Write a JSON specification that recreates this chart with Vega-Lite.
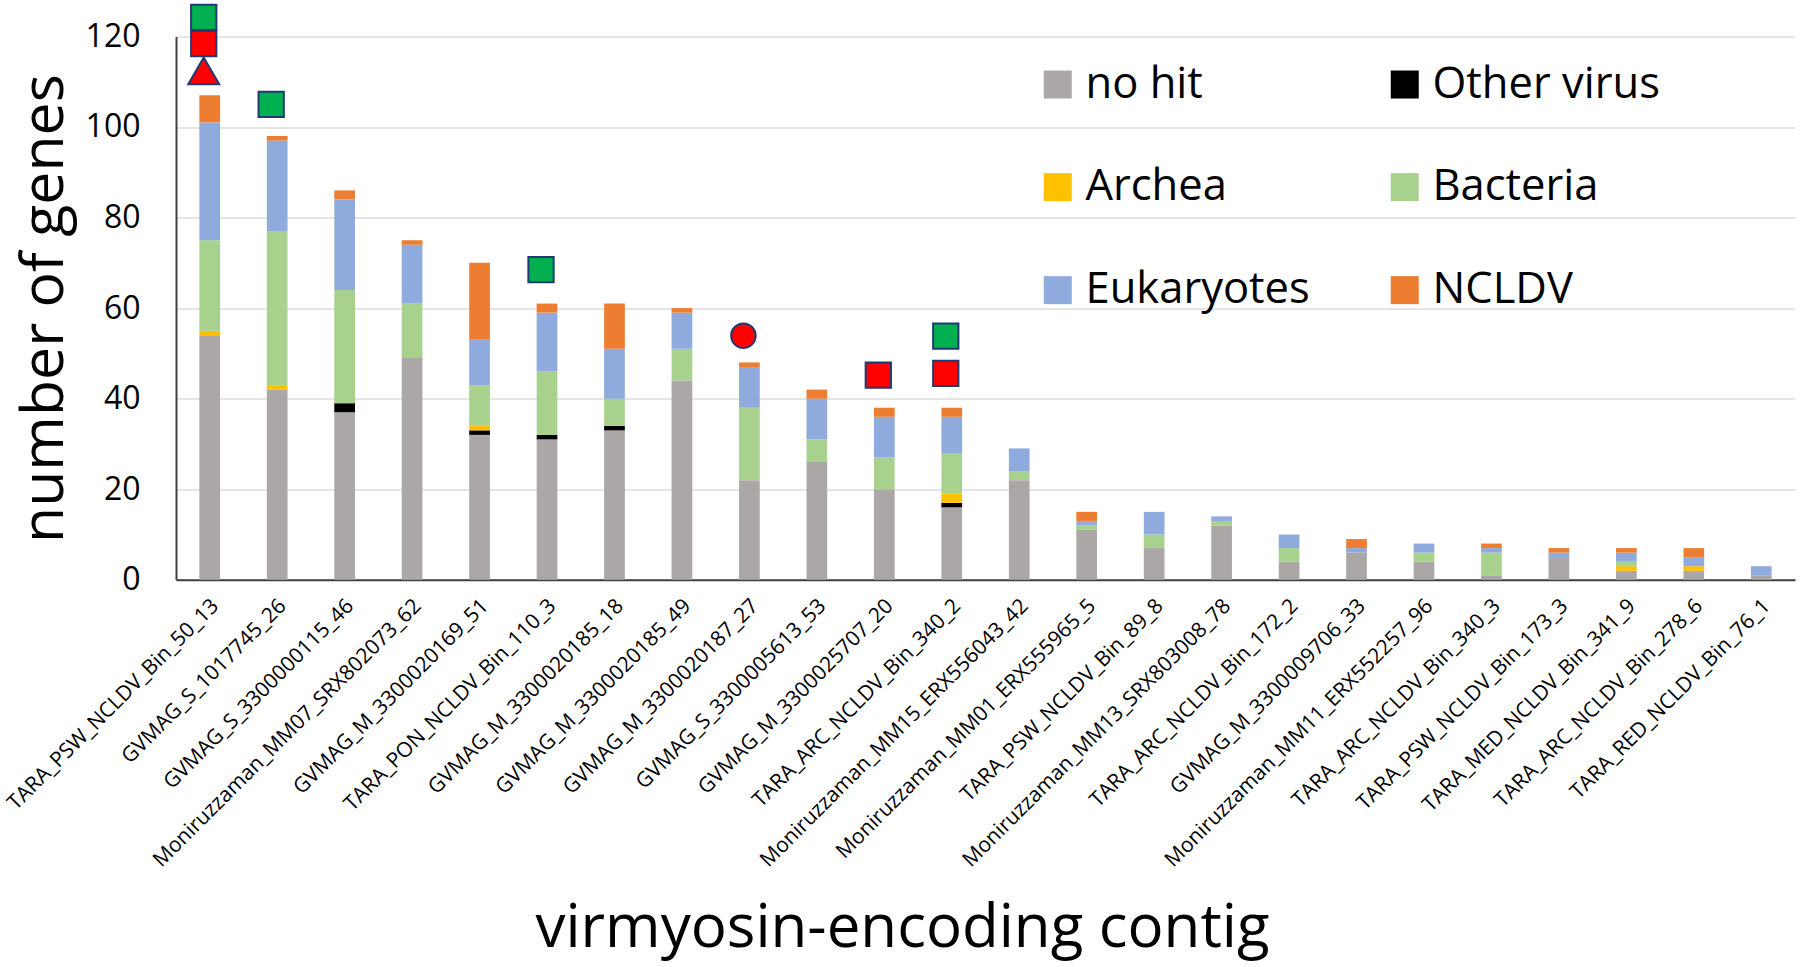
{"$schema":"https://vega.github.io/schema/vega-lite/v6.json","width":1619,"height":543.4,"autosize":{"type":"none"},"padding":{"left":176,"top":36.4,"right":5,"bottom":387.2},"background":"white","config":{"font":"Open Sans","view":{"stroke":null}},"datasets":{"bars":[
{"contig":"TARA_PSW_NCLDV_Bin_50_13","group":"no hit","rank":0,"genes":54},{"contig":"TARA_PSW_NCLDV_Bin_50_13","group":"Archea","rank":2,"genes":1},{"contig":"TARA_PSW_NCLDV_Bin_50_13","group":"Bacteria","rank":3,"genes":20},{"contig":"TARA_PSW_NCLDV_Bin_50_13","group":"Eukaryotes","rank":4,"genes":26},{"contig":"TARA_PSW_NCLDV_Bin_50_13","group":"NCLDV","rank":5,"genes":6},
{"contig":"GVMAG_S_1017745_26","group":"no hit","rank":0,"genes":42},{"contig":"GVMAG_S_1017745_26","group":"Archea","rank":2,"genes":1},{"contig":"GVMAG_S_1017745_26","group":"Bacteria","rank":3,"genes":34},{"contig":"GVMAG_S_1017745_26","group":"Eukaryotes","rank":4,"genes":20},{"contig":"GVMAG_S_1017745_26","group":"NCLDV","rank":5,"genes":1},
{"contig":"GVMAG_S_3300000115_46","group":"no hit","rank":0,"genes":37},{"contig":"GVMAG_S_3300000115_46","group":"Other virus","rank":1,"genes":2},{"contig":"GVMAG_S_3300000115_46","group":"Bacteria","rank":3,"genes":25},{"contig":"GVMAG_S_3300000115_46","group":"Eukaryotes","rank":4,"genes":20},{"contig":"GVMAG_S_3300000115_46","group":"NCLDV","rank":5,"genes":2},
{"contig":"Moniruzzaman_MM07_SRX802073_62","group":"no hit","rank":0,"genes":49},{"contig":"Moniruzzaman_MM07_SRX802073_62","group":"Bacteria","rank":3,"genes":12},{"contig":"Moniruzzaman_MM07_SRX802073_62","group":"Eukaryotes","rank":4,"genes":13},{"contig":"Moniruzzaman_MM07_SRX802073_62","group":"NCLDV","rank":5,"genes":1},
{"contig":"GVMAG_M_3300020169_51","group":"no hit","rank":0,"genes":32},{"contig":"GVMAG_M_3300020169_51","group":"Other virus","rank":1,"genes":1},{"contig":"GVMAG_M_3300020169_51","group":"Archea","rank":2,"genes":1},{"contig":"GVMAG_M_3300020169_51","group":"Bacteria","rank":3,"genes":9},{"contig":"GVMAG_M_3300020169_51","group":"Eukaryotes","rank":4,"genes":10},{"contig":"GVMAG_M_3300020169_51","group":"NCLDV","rank":5,"genes":17},
{"contig":"TARA_PON_NCLDV_Bin_110_3","group":"no hit","rank":0,"genes":31},{"contig":"TARA_PON_NCLDV_Bin_110_3","group":"Other virus","rank":1,"genes":1},{"contig":"TARA_PON_NCLDV_Bin_110_3","group":"Bacteria","rank":3,"genes":14},{"contig":"TARA_PON_NCLDV_Bin_110_3","group":"Eukaryotes","rank":4,"genes":13},{"contig":"TARA_PON_NCLDV_Bin_110_3","group":"NCLDV","rank":5,"genes":2},
{"contig":"GVMAG_M_3300020185_18","group":"no hit","rank":0,"genes":33},{"contig":"GVMAG_M_3300020185_18","group":"Other virus","rank":1,"genes":1},{"contig":"GVMAG_M_3300020185_18","group":"Bacteria","rank":3,"genes":6},{"contig":"GVMAG_M_3300020185_18","group":"Eukaryotes","rank":4,"genes":11},{"contig":"GVMAG_M_3300020185_18","group":"NCLDV","rank":5,"genes":10},
{"contig":"GVMAG_M_3300020185_49","group":"no hit","rank":0,"genes":44},{"contig":"GVMAG_M_3300020185_49","group":"Bacteria","rank":3,"genes":7},{"contig":"GVMAG_M_3300020185_49","group":"Eukaryotes","rank":4,"genes":8},{"contig":"GVMAG_M_3300020185_49","group":"NCLDV","rank":5,"genes":1},
{"contig":"GVMAG_M_3300020187_27","group":"no hit","rank":0,"genes":22},{"contig":"GVMAG_M_3300020187_27","group":"Bacteria","rank":3,"genes":16},{"contig":"GVMAG_M_3300020187_27","group":"Eukaryotes","rank":4,"genes":9},{"contig":"GVMAG_M_3300020187_27","group":"NCLDV","rank":5,"genes":1},
{"contig":"GVMAG_S_3300005613_53","group":"no hit","rank":0,"genes":26},{"contig":"GVMAG_S_3300005613_53","group":"Bacteria","rank":3,"genes":5},{"contig":"GVMAG_S_3300005613_53","group":"Eukaryotes","rank":4,"genes":9},{"contig":"GVMAG_S_3300005613_53","group":"NCLDV","rank":5,"genes":2},
{"contig":"GVMAG_M_3300025707_20","group":"no hit","rank":0,"genes":20},{"contig":"GVMAG_M_3300025707_20","group":"Bacteria","rank":3,"genes":7},{"contig":"GVMAG_M_3300025707_20","group":"Eukaryotes","rank":4,"genes":9},{"contig":"GVMAG_M_3300025707_20","group":"NCLDV","rank":5,"genes":2},
{"contig":"TARA_ARC_NCLDV_Bin_340_2","group":"no hit","rank":0,"genes":16},{"contig":"TARA_ARC_NCLDV_Bin_340_2","group":"Other virus","rank":1,"genes":1},{"contig":"TARA_ARC_NCLDV_Bin_340_2","group":"Archea","rank":2,"genes":2},{"contig":"TARA_ARC_NCLDV_Bin_340_2","group":"Bacteria","rank":3,"genes":9},{"contig":"TARA_ARC_NCLDV_Bin_340_2","group":"Eukaryotes","rank":4,"genes":8},{"contig":"TARA_ARC_NCLDV_Bin_340_2","group":"NCLDV","rank":5,"genes":2},
{"contig":"Moniruzzaman_MM15_ERX556043_42","group":"no hit","rank":0,"genes":22},{"contig":"Moniruzzaman_MM15_ERX556043_42","group":"Bacteria","rank":3,"genes":2},{"contig":"Moniruzzaman_MM15_ERX556043_42","group":"Eukaryotes","rank":4,"genes":5},
{"contig":"Moniruzzaman_MM01_ERX555965_5","group":"no hit","rank":0,"genes":11},{"contig":"Moniruzzaman_MM01_ERX555965_5","group":"Bacteria","rank":3,"genes":1},{"contig":"Moniruzzaman_MM01_ERX555965_5","group":"Eukaryotes","rank":4,"genes":1},{"contig":"Moniruzzaman_MM01_ERX555965_5","group":"NCLDV","rank":5,"genes":2},
{"contig":"TARA_PSW_NCLDV_Bin_89_8","group":"no hit","rank":0,"genes":7},{"contig":"TARA_PSW_NCLDV_Bin_89_8","group":"Bacteria","rank":3,"genes":3},{"contig":"TARA_PSW_NCLDV_Bin_89_8","group":"Eukaryotes","rank":4,"genes":5},
{"contig":"Moniruzzaman_MM13_SRX803008_78","group":"no hit","rank":0,"genes":12},{"contig":"Moniruzzaman_MM13_SRX803008_78","group":"Bacteria","rank":3,"genes":1},{"contig":"Moniruzzaman_MM13_SRX803008_78","group":"Eukaryotes","rank":4,"genes":1},
{"contig":"TARA_ARC_NCLDV_Bin_172_2","group":"no hit","rank":0,"genes":4},{"contig":"TARA_ARC_NCLDV_Bin_172_2","group":"Bacteria","rank":3,"genes":3},{"contig":"TARA_ARC_NCLDV_Bin_172_2","group":"Eukaryotes","rank":4,"genes":3},
{"contig":"GVMAG_M_3300009706_33","group":"no hit","rank":0,"genes":6},{"contig":"GVMAG_M_3300009706_33","group":"Eukaryotes","rank":4,"genes":1},{"contig":"GVMAG_M_3300009706_33","group":"NCLDV","rank":5,"genes":2},
{"contig":"Moniruzzaman_MM11_ERX552257_96","group":"no hit","rank":0,"genes":4},{"contig":"Moniruzzaman_MM11_ERX552257_96","group":"Bacteria","rank":3,"genes":2},{"contig":"Moniruzzaman_MM11_ERX552257_96","group":"Eukaryotes","rank":4,"genes":2},
{"contig":"TARA_ARC_NCLDV_Bin_340_3","group":"no hit","rank":0,"genes":1},{"contig":"TARA_ARC_NCLDV_Bin_340_3","group":"Bacteria","rank":3,"genes":5},{"contig":"TARA_ARC_NCLDV_Bin_340_3","group":"Eukaryotes","rank":4,"genes":1},{"contig":"TARA_ARC_NCLDV_Bin_340_3","group":"NCLDV","rank":5,"genes":1},
{"contig":"TARA_PSW_NCLDV_Bin_173_3","group":"no hit","rank":0,"genes":5},{"contig":"TARA_PSW_NCLDV_Bin_173_3","group":"Eukaryotes","rank":4,"genes":1},{"contig":"TARA_PSW_NCLDV_Bin_173_3","group":"NCLDV","rank":5,"genes":1},
{"contig":"TARA_MED_NCLDV_Bin_341_9","group":"no hit","rank":0,"genes":2},{"contig":"TARA_MED_NCLDV_Bin_341_9","group":"Archea","rank":2,"genes":1},{"contig":"TARA_MED_NCLDV_Bin_341_9","group":"Bacteria","rank":3,"genes":1},{"contig":"TARA_MED_NCLDV_Bin_341_9","group":"Eukaryotes","rank":4,"genes":2},{"contig":"TARA_MED_NCLDV_Bin_341_9","group":"NCLDV","rank":5,"genes":1},
{"contig":"TARA_ARC_NCLDV_Bin_278_6","group":"no hit","rank":0,"genes":2},{"contig":"TARA_ARC_NCLDV_Bin_278_6","group":"Archea","rank":2,"genes":1},{"contig":"TARA_ARC_NCLDV_Bin_278_6","group":"Eukaryotes","rank":4,"genes":2},{"contig":"TARA_ARC_NCLDV_Bin_278_6","group":"NCLDV","rank":5,"genes":2},
{"contig":"TARA_RED_NCLDV_Bin_76_1","group":"no hit","rank":0,"genes":1},{"contig":"TARA_RED_NCLDV_Bin_76_1","group":"Eukaryotes","rank":4,"genes":2}
],"markers":[
{"contig":"TARA_PSW_NCLDV_Bin_50_13","level":124.2,"marker":"green square"},
{"contig":"TARA_PSW_NCLDV_Bin_50_13","level":118.4,"marker":"red square"},
{"contig":"TARA_PSW_NCLDV_Bin_50_13","level":112.4,"marker":"red triangle"},
{"contig":"GVMAG_S_1017745_26","level":105,"marker":"green square"},
{"contig":"TARA_PON_NCLDV_Bin_110_3","level":68.5,"marker":"green square"},
{"contig":"GVMAG_M_3300020187_27","level":53.9,"marker":"red circle"},
{"contig":"GVMAG_M_3300025707_20","level":45.2,"marker":"red square"},
{"contig":"TARA_ARC_NCLDV_Bin_340_2","level":53.8,"marker":"green square"},
{"contig":"TARA_ARC_NCLDV_Bin_340_2","level":45.6,"marker":"red square"}
]},
"encoding":{"x":{"field":"contig","type":"nominal","sort":null,"scale":{"domain":["TARA_PSW_NCLDV_Bin_50_13","GVMAG_S_1017745_26","GVMAG_S_3300000115_46","Moniruzzaman_MM07_SRX802073_62","GVMAG_M_3300020169_51","TARA_PON_NCLDV_Bin_110_3","GVMAG_M_3300020185_18","GVMAG_M_3300020185_49","GVMAG_M_3300020187_27","GVMAG_S_3300005613_53","GVMAG_M_3300025707_20","TARA_ARC_NCLDV_Bin_340_2","Moniruzzaman_MM15_ERX556043_42","Moniruzzaman_MM01_ERX555965_5","TARA_PSW_NCLDV_Bin_89_8","Moniruzzaman_MM13_SRX803008_78","TARA_ARC_NCLDV_Bin_172_2","GVMAG_M_3300009706_33","Moniruzzaman_MM11_ERX552257_96","TARA_ARC_NCLDV_Bin_340_3","TARA_PSW_NCLDV_Bin_173_3","TARA_MED_NCLDV_Bin_341_9","TARA_ARC_NCLDV_Bin_278_6","TARA_RED_NCLDV_Bin_76_1"],"paddingInner":0.693,"paddingOuter":0.3465},"axis":{"title":"virmyosin-encoding contig","titleFont":"Open Sans","titleFontSize":60,"titleFontWeight":"normal","titleColor":"#000000","titleX":726,"titleY":367,"titleBaseline":"alphabetic","titleAlign":"center","titleAnchor":"middle","labelFont":"Open Sans","labelFontSize":21,"labelColor":"#000000","labelAngle":-45,"labelAlign":"right","labelBaseline":"top","labelPadding":15,"labelOffset":-2,"labelOverlap":false,"labelLimit":0,"ticks":false,"domainColor":"#404040","domainWidth":2,"grid":false}}},
"layer":[
{"data":{"name":"bars"},"mark":{"type":"bar"},"encoding":{"y":{"field":"genes","type":"quantitative","stack":"zero","scale":{"domain":[0,120],"nice":false},"axis":{"title":"number of genes","titleFont":"Open Sans","titleFontSize":59,"titleFontWeight":"normal","titleColor":"#000000","titleX":-114,"titleY":271.7,"titleBaseline":"alphabetic","titleAngle":-90,"titleAlign":"center","values":[0,20,40,60,80,100,120],"labelFont":"Open Sans","labelFontSize":32,"labelColor":"#000000","labelPadding":36,"ticks":false,"domain":true,"domainColor":"#404040","domainWidth":2,"grid":true,"gridColor":"#DDDDDD","gridWidth":1.5}},"color":{"field":"group","type":"nominal","scale":{"domain":["no hit","Other virus","Archea","Bacteria","Eukaryotes","NCLDV"],"range":["#ABA7A7","#000000","#FFC000","#A9D18E","#8FAADC","#ED7D31"]},"legend":{"title":null,"orient":"none","legendX":860,"legendY":26,"columns":2,"direction":"horizontal","symbolType":"square","symbolSize":784,"symbolStrokeWidth":0,"labelFont":"Open Sans","labelFontSize":43.5,"labelColor":"#000000","labelOffset":6,"rowPadding":58,"columnPadding":73,"labelLimit":0}},"order":{"field":"rank","type":"quantitative"}}},
{"data":{"name":"markers"},"mark":{"type":"point","filled":true,"xOffset":-6,"stroke":"#1F3B73","strokeWidth":2,"opacity":1},"encoding":{"y":{"field":"level","type":"quantitative","scale":{"domain":[0,120],"nice":false},"axis":{"title":"number of genes","titleFont":"Open Sans","titleFontSize":59,"titleFontWeight":"normal","titleColor":"#000000","titleX":-114,"titleY":271.7,"titleBaseline":"alphabetic","titleAngle":-90,"titleAlign":"center","values":[0,20,40,60,80,100,120],"labelFont":"Open Sans","labelFontSize":32,"labelColor":"#000000","labelPadding":36,"ticks":false,"domain":true,"domainColor":"#404040","domainWidth":2,"grid":true,"gridColor":"#DDDDDD","gridWidth":1.5}},"shape":{"field":"marker","type":"nominal","scale":{"domain":["green square","red square","red triangle","red circle"],"range":["square","square","triangle-up","circle"]},"legend":null},"fill":{"field":"marker","type":"nominal","scale":{"domain":["green square","red square","red triangle","red circle"],"range":["#00B050","#FF0000","#FF0000","#FF0000"]},"legend":null},"size":{"field":"marker","type":"nominal","scale":{"type":"ordinal","domain":["green square","red square","red triangle","red circle"],"range":[640,640,960,600]},"legend":null}}}
]}
